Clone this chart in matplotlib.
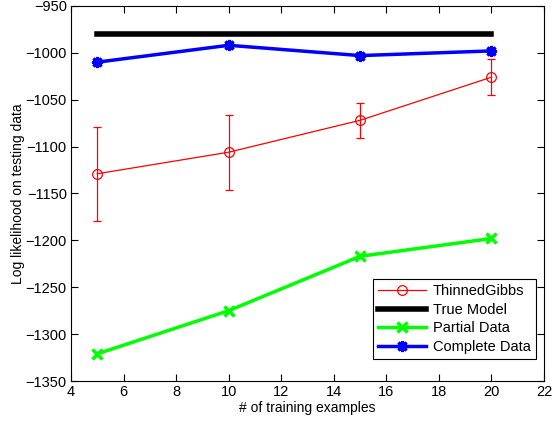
import matplotlib
import matplotlib.pyplot as plt

matplotlib.use("Agg")

plt.rcParams["font.family"] = ["Liberation Sans", "DejaVu Sans"]
plt.rcParams["font.size"] = 10

n_examples = [5, 10, 15, 20]
thinned_gibbs = [-1129, -1106, -1072, -1026]
thinned_err = [50, 40, 18.5, 19]
true_model = [-980, -980, -980, -980]
partial_data = [-1321, -1275, -1217, -1198]
complete_data = [-1010, -992, -1003, -998]

fig = plt.figure(figsize=(5.52, 4.21), dpi=100)
ax = fig.add_axes([0.1286, 0.095, 0.857, 0.891])

eb = ax.errorbar(n_examples, thinned_gibbs, yerr=thinned_err, color="red",
                 lw=0.9, marker="o", ms=7, mfc="none", mew=0.9, capsize=3,
                 elinewidth=0.9)
tm, = ax.plot(n_examples, true_model, color="black", lw=4)
pd_line, = ax.plot(n_examples, partial_data, color="#00ff00", lw=2.5,
                   marker="x", ms=7, mew=2.5)
cd_line, = ax.plot(n_examples, complete_data, color="blue", lw=2.5,
                   marker=(8, 2, 0), ms=8, mew=2.2)

ax.set_xlim(4, 22)
ax.set_ylim(-1350, -950)
ax.set_xticks(range(4, 23, 2))
ax.set_yticks(range(-1350, -949, 50))
ax.tick_params(direction="in", top=True, right=True, length=5, width=0.8,
               labelsize=10.5, pad=3)
for spine in ax.spines.values():
    spine.set_linewidth(0.8)

ax.set_xlabel("# of training examples", fontsize=10, labelpad=1)
ax.set_ylabel("Log likelihood on testing data", fontsize=10)
ax.yaxis.set_label_coords(-0.097, 0.5)

leg = ax.legend([eb[0], tm, pd_line, cd_line],
                ["ThinnedGibbs", "True Model", "Partial Data", "Complete Data"],
                loc="lower right", bbox_to_anchor=(0.9985, 0.04),
                fancybox=False, edgecolor="black", framealpha=1, fontsize=10.5,
                handlelength=3.3, borderpad=0.35, labelspacing=0.3,
                handletextpad=0.5)
leg.get_frame().set_linewidth(0.8)

fig.savefig("out.png", dpi=100)
